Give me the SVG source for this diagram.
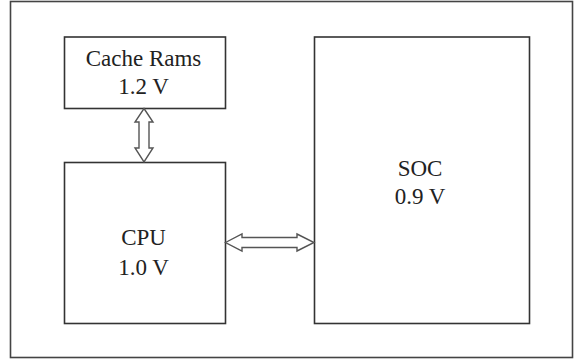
<svg xmlns="http://www.w3.org/2000/svg" width="574" height="362" viewBox="0 0 574 362">
<style>
.box{fill:#fff;stroke:#333;stroke-width:1.6}
.frame{fill:#fff;stroke:#444;stroke-width:1.6}
.arr{fill:#fff;stroke:#555;stroke-width:1.4;stroke-linejoin:miter}
text{font-family:"Liberation Serif","Times New Roman",serif;font-size:23px;fill:#222;text-anchor:middle}
</style>
<rect x="0" y="0" width="574" height="362" fill="#fff"/>
<rect class="frame" x="10.5" y="1.5" width="562" height="356"/>
<g id="cache">
<rect class="box" x="64.5" y="37" width="161" height="71.5"/>
<text x="143.5" y="65.5">Cache Rams</text>
<text x="143.5" y="94">1.2 V</text>
</g>
<g id="cpu">
<rect class="box" x="64.5" y="162.5" width="161" height="161"/>
<text x="143.5" y="245">CPU</text>
<text x="143.5" y="275">1.0 V</text>
</g>
<g id="soc">
<rect class="box" x="314.5" y="37" width="215" height="286.5"/>
<text x="420" y="176">SOC</text>
<text x="420" y="204">0.9 V</text>
</g>
<g id="connectors">
<polygon class="arr" points="144,108.5 153,122 149,122 149,148 153,148 144,162 135,148 139,148 139,122 135,122"/>
<polygon class="arr" points="225.5,242.5 242,234 242,237.5 297,237.5 297,234 314,242.5 297,251 297,247.5 242,247.5 242,251"/>
</g>
</svg>
